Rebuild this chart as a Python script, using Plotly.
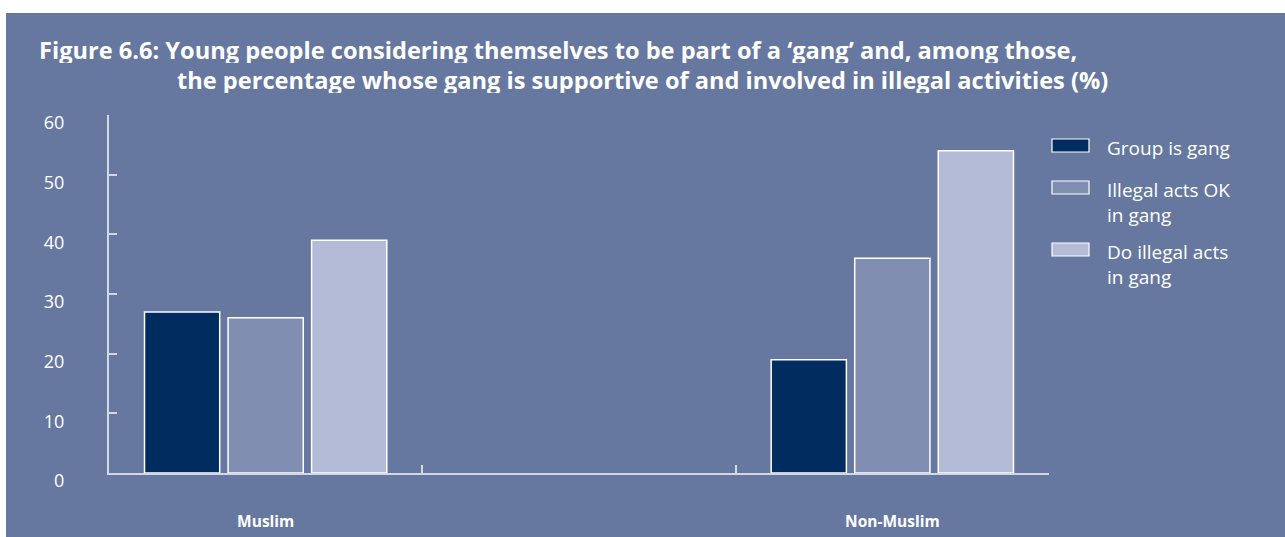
import plotly.graph_objects as go

categories = ["Muslim", " ", "Non-Muslim"]
series_names = ["Group is gang", "Illegal acts OK<br>in gang", "Do illegal acts<br>in gang"]
group_is_gang = [27, None, 19]
illegal_ok = [26, None, 36]
do_illegal = [39, None, 54]
y_ticks = [0, 10, 20, 30, 40, 50, 60]

colors = ["#002C5F", "#7F8EB1", "#B3BBD6"]
BG = "#6678A0"
AX = "#D3D8E6"
FONT = "Open Sans"

fig = go.Figure()
for name, vals, col in zip(series_names, [group_is_gang, illegal_ok, do_illegal], colors):
    fig.add_trace(go.Bar(x=categories, y=vals, name=name, showlegend=False,
                         marker=dict(color=col, line=dict(color="white", width=1.5))))

# body margin removed by post_script, so figure pixels == window pixels
W, H = 1285, 537
l, t = 109, 115
r = W - 1049
b = H - 473
pw, ph = W - l - r, H - t - b


def px(xs):
    return (xs - l) / pw


def py(ys):
    return (H - b - ys) / ph


# white page border above and left of the blue panel
shapes = [
    dict(type="rect", xref="paper", yref="paper", layer="below",
         x0=px(-5), x1=px(W + 5), y0=py(13), y1=py(-5), fillcolor="white", line=dict(width=0)),
    dict(type="rect", xref="paper", yref="paper", layer="below",
         x0=px(-5), x1=px(6), y0=py(H + 5), y1=py(-5), fillcolor="white", line=dict(width=0)),
]
annotations = []

# custom legend with wide swatches
legend_box_y = [139, 181, 243]
for name, col, y0 in zip(series_names, colors, legend_box_y):
    shapes.append(dict(type="rect", xref="paper", yref="paper",
                       x0=px(1052), x1=px(1089), y0=py(y0 + 13), y1=py(y0),
                       fillcolor=col, line=dict(color="white", width=1.2)))
    annotations.append(dict(xref="paper", yref="paper", x=px(1105), y=py(y0 - 6),
                            xanchor="left", yanchor="top", align="left", showarrow=False,
                            text=name, font=dict(family=FONT, size=19, color="white")))

annotations.append(dict(xref="paper", yref="paper", x=px(37), y=py(50),
                        xanchor="left", yanchor="middle", showarrow=False, height=27,
                        text="<b>Figure 6.6: Young people considering themselves to be part of a ‘gang’ and, among those,</b>",
                        font=dict(family=FONT, size=23.6, color="white")))
annotations.append(dict(xref="paper", yref="paper", x=px(175), y=py(79),
                        xanchor="left", yanchor="middle", showarrow=False, height=27,
                        text="<b>the percentage whose gang is supportive of and involved in illegal activities (%)</b>",
                        font=dict(family=FONT, size=23.6, color="white")))

fig.update_layout(
    width=W, height=H,
    margin=dict(l=l, r=r, t=t, b=b, pad=0, autoexpand=False),
    paper_bgcolor=BG, plot_bgcolor="rgba(0,0,0,0)",
    barmode="group", bargap=0.2, bargroupgap=0.1,
    font=dict(family=FONT, color="white", size=17),
    showlegend=False,
    shapes=shapes, annotations=annotations,
)
fig.update_xaxes(type="category", categoryorder="array", categoryarray=categories,
                 range=[-0.5, 2.5], showline=True, linecolor=AX, linewidth=2, automargin=False,
                 ticks="inside", ticklen=8, tickcolor=AX, tickwidth=1.5, tickson="boundaries",
                 showgrid=False, zeroline=False, ticklabelstandoff=33,
                 tickfont=dict(family=FONT, size=15.5, color="white", weight="bold"))
fig.update_yaxes(range=[0, 60], tickvals=y_ticks, showline=True, linecolor=AX, linewidth=2,
                 automargin=False,
                 ticks="inside", ticklen=8, tickcolor=AX, tickwidth=1.5,
                 showgrid=False, zeroline=False, ticklabelstandoff=39, ticklabelshift=8,
                 tickfont=dict(family=FONT, size=18, color="white"))

fig.write_html("out.html", config={"displayModeBar": False},
               post_script="document.body.style.margin='0';document.body.style.overflow='hidden';")
